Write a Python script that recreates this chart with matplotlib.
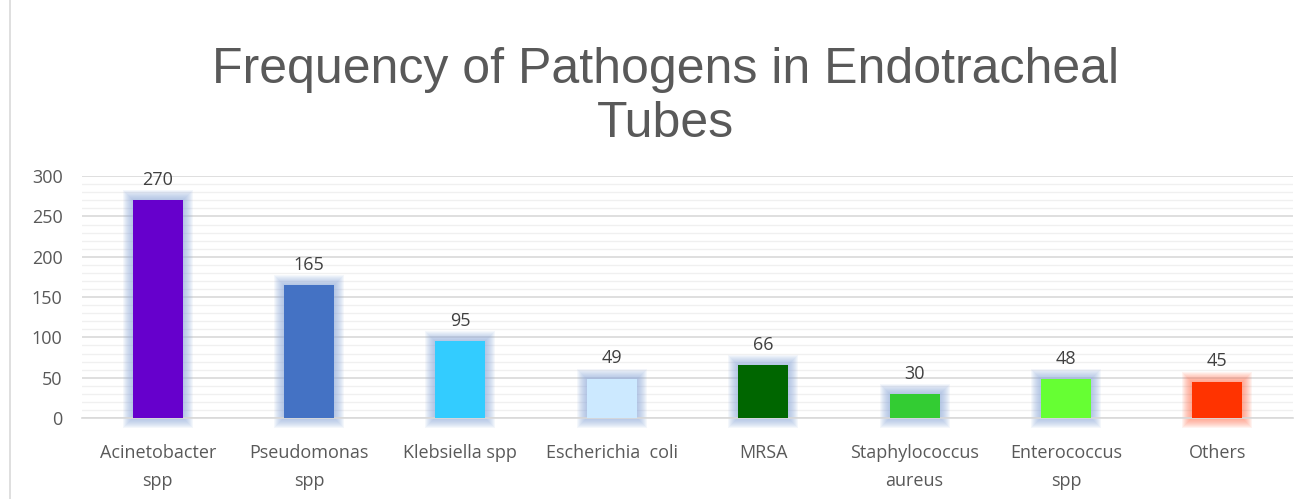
import matplotlib
matplotlib.use("Agg")
import matplotlib.pyplot as plt
import numpy as np

categories = ["Acinetobacter\nspp", "Pseudomonas\nspp", "Klebsiella spp", "Escherichia  coli",
              "MRSA", "Staphylococcus\naureus", "Enterococcus\nspp", "Others"]
values = [270, 165, 95, 49, 66, 30, 48, 45]
bar_colors = ["#6600cc", "#4472c4", "#33ccff", "#cce9ff", "#006600", "#33cc33", "#66ff33", "#ff3300"]
glow_colors = ["#8eaadb"] * 7 + ["#ff7a5c"]
yticks = [0, 50, 100, 150, 200, 250, 300]

fig = plt.figure(figsize=(13.1, 4.99), dpi=100)
ax = fig.add_axes([0.0626, 0.1623, 0.9244, 0.4847])

x = np.arange(len(categories))
bw = 0.33
ppx = 1.0 / 151.4   # data units per pixel in x
ppy = 300 / 242.0   # data units per pixel in y

# glow
for i, (v, gc) in enumerate(zip(values, glow_colors)):
    for k in range(10, 0, -1):
        ex = k * 1.0
        ax.bar(x[i], v + 2 * ex * ppy, width=bw + 2 * ex * ppx, bottom=-ex * ppy,
               color=gc, alpha=0.09, linewidth=0, zorder=2, clip_on=False)

bars = ax.bar(x, values, width=bw, color=bar_colors, zorder=3, linewidth=0)

for xi, v in zip(x, values):
    ax.text(xi, v + 14, str(v), ha="center", va="bottom", fontsize=13,
            color="#404040", family="Open Sans", zorder=4)

ax.set_xlim(-0.5, len(categories) - 0.5)
ax.set_ylim(0, 300)
ax.set_yticks(yticks)
ax.set_yticks(np.arange(0, 301, 10), minor=True)
ax.set_xticks(x)
ax.set_xticklabels(categories, fontsize=13, color="#595959", family="Open Sans", linespacing=1.65)
for lab in ax.get_yticklabels():
    lab.set_fontsize(13)
    lab.set_color("#595959")
    lab.set_family("Open Sans")
ax.tick_params(axis="both", which="both", length=0)
ax.tick_params(axis="x", pad=19)
ax.tick_params(axis="y", pad=14)
ax.grid(axis="y", which="major", color="#d9d9d9", linewidth=1.2, zorder=0)
ax.grid(axis="y", which="minor", color="#f0f0f0", linewidth=1.0, zorder=0)
ax.set_axisbelow(True)
for s in ["top", "right", "left"]:
    ax.spines[s].set_visible(False)
ax.spines["bottom"].set_color("#d9d9d9")
ax.spines["bottom"].set_linewidth(1.2)

fig.text(0.508, 0.905, "Frequency of Pathogens in Endotracheal\nTubes", ha="center", va="top",
         fontsize=36, color="#595959", family="Liberation Sans", linespacing=1.2)

# chart border on left
fig.add_artist(plt.Line2D([0.008, 0.008], [0, 1], color="#d9d9d9", linewidth=1.2,
                          transform=fig.transFigure))

fig.savefig("out.png", dpi=100)
